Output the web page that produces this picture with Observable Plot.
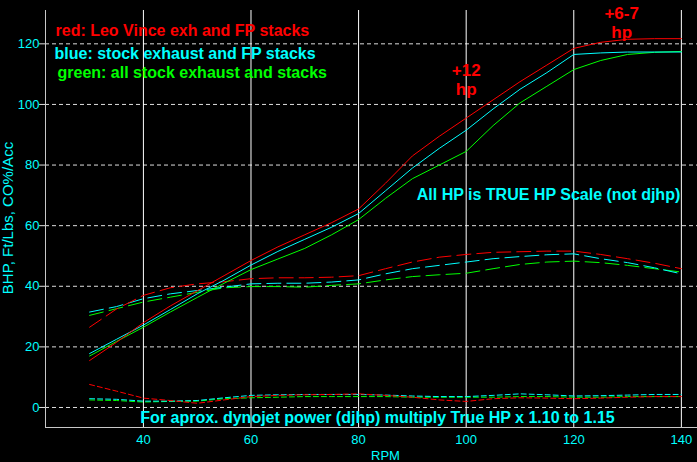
<!DOCTYPE html>
<html><head><meta charset="utf-8">
<script src="https://cdn.jsdelivr.net/npm/d3@7"></script>
<script src="https://cdn.jsdelivr.net/npm/@observablehq/plot@0.6"></script>
<style>
html,body{margin:0;padding:0;background:#000;}
#chart svg{display:block;}
</style></head><body><div id="chart"></div>
<script>
const rpm = [30,35,40,45,50,55,60,65,70,75,80,85,90,95,100,105,110,115,120,125,130,135,140];

const hpRed   = [15.5,21.5,28,33.5,38.5,43.5,48.5,53,57,61,65.5,74,83,89.5,95.5,101.5,107.5,113,118.5,120.5,121.5,121.7,121.7];
const hpBlue  = [17.8,22.5,27.2,32.3,37.5,42,47,51.5,55.5,59.5,64,71.5,79,85.5,91.5,98.5,105,110.5,116.5,117,117.3,117.3,117.3];
const hpGreen = [17,21.8,26.5,31.5,36.3,41,45.5,49,52.5,57,62,69,75.5,80,84.5,93,100.5,106,111.5,114.5,116.5,117.2,117.5];

const tqRed   = [26.5,32.5,37,39.5,40.8,41.5,42.5,42.8,42.8,43,43.5,45.8,48,49.6,50.5,51.2,51.4,51.6,51.6,50.5,49.1,47.6,45.8];
const tqBlue  = [31.5,33.3,35.9,37.5,38.6,39.7,40.8,41,41,41.4,42.1,44.1,45.8,46.9,48,49.1,49.8,50.4,50.7,49.1,47.8,46.1,44.1];
const tqGreen = [30.4,32.6,34.8,36.4,38,39.5,39.9,39.9,39.7,40.3,40.8,42.1,43.2,43.8,44.3,45.8,47.2,48,48.3,47.8,46.9,45.8,44.7];

const coRed   = [7.6,5.4,3.1,2.3,1.4,2.5,3.6,4,4.2,4.3,4.5,4,3.4,2.5,2,2.9,3.2,3.1,2.9,3.1,3.4,3.6,3.6];
const coBlue  = [2.9,2.7,2.1,2.1,2.3,3.2,4,4.2,4.3,4.3,4.3,4.1,3.8,3.6,3.6,4,4.5,4.2,3.8,3.9,4.1,4.3,4.3];
const coGreen = [2.5,2.3,1.8,2,2.1,2.9,3.2,3.4,3.6,3.6,3.6,3.6,3.4,3.4,3.4,3.4,3.6,3.6,3.4,3.4,3.6,3.6,3.6];

const xTicks = [40,60,80,100,120,140];
const yTicks = [0,20,40,60,80,100,120];

const legendRed = "red: Leo Vince exh and FP stacks";
const legendBlue = "blue: stock exhaust and FP stacks";
const legendGreen = "green: all stock exhaust and stacks";
const noteTrue = "All HP is TRUE HP Scale (not djhp)";
const noteDyno = "For aprox. dynojet power (djhp) multiply True HP x 1.10 to 1.15";
const yLabel = "BHP, Ft/Lbs, CO%/Acc";
const xLabel = "RPM";
const gainLabels = [{rpm:100, v:111.2, text:"+12"},{rpm:100, v:105, text:"hp"},{rpm:128.9, v:130, text:"+6-7"},{rpm:128.9, v:123.8, text:"hp"}];

const RED = "#ff0000", CYAN = "#00ffff", GREEN = "#00ff00";
const xDomain = [21.8, 143];
const yDomain = [-6.6, 131];

const rows = vals => rpm.map((r, i) => ({rpm: r, v: vals[i]}));
const series = [
  {vals: coGreen, color: GREEN, dash: "5,3"},
  {vals: coBlue, color: CYAN, dash: "5,3"},
  {vals: coRed, color: RED, dash: "5,3"},
  {vals: tqGreen, color: GREEN, dash: "14,6"},
  {vals: tqBlue, color: CYAN, dash: "14,6"},
  {vals: tqRed, color: RED, dash: "14,6"},
  {vals: hpGreen, color: GREEN, dash: null},
  {vals: hpBlue, color: CYAN, dash: null},
  {vals: hpRed, color: RED, dash: null}
];

const font = "'Liberation Sans', Arial, sans-serif";
const big = {fontSize: 16, fontWeight: "bold", lineAnchor: "middle"};

const chart = Plot.plot({
  width: 697,
  height: 462,
  marginLeft: 45,
  marginRight: 0,
  marginTop: 10,
  marginBottom: 35,
  style: {background: "#000", fontFamily: font, overflow: "visible"},
  x: {domain: xDomain},
  y: {domain: yDomain},
  marks: [
    Plot.gridY(yTicks, {stroke: "#dddddd", strokeOpacity: 1, strokeDasharray: "4,3"}),
    Plot.gridX(xTicks, {stroke: "#ffffff", strokeOpacity: 1}),
    Plot.ruleX([xDomain[0]], {stroke: "#c8c8c8"}),
    Plot.ruleY([yDomain[0]], {stroke: "#c8c8c8"}),
    Plot.axisX(xTicks, {tickSize: 0, tickPadding: 7, fill: CYAN, fontSize: 13, label: null}),
    Plot.axisY(yTicks, {tickSize: 6, tickPadding: 0, stroke: "#dddddd", fill: CYAN, fontSize: 13, label: null}),
    ...series.map(s => Plot.line(rows(s.vals), {x: "rpm", y: "v", stroke: s.color, strokeWidth: 1, strokeDasharray: s.dash})),
    Plot.text([yLabel], {frameAnchor: "left", textAnchor: "middle", lineAnchor: "middle", rotate: -90, dx: -37, dy: -1, fill: CYAN, fontSize: 15}),
    Plot.text([xLabel], {frameAnchor: "bottom", lineAnchor: "middle", dx: 14, dy: 28, fill: CYAN, fontSize: 13}),
    Plot.text([legendRed], {frameAnchor: "top-left", textAnchor: "start", dx: 10, dy: 20, fill: RED, ...big}),
    Plot.text([legendBlue], {frameAnchor: "top-left", textAnchor: "start", dx: 9, dy: 43, fill: CYAN, ...big}),
    Plot.text([legendGreen], {frameAnchor: "top-left", textAnchor: "start", dx: 12, dy: 62, fill: GREEN, ...big}),
    Plot.text([noteTrue], {frameAnchor: "top-left", textAnchor: "middle", dx: 503, dy: 184, fill: CYAN, ...big}),
    Plot.text([noteDyno], {frameAnchor: "bottom", textAnchor: "middle", dx: 6, dy: -10, fill: CYAN, ...big}),
    Plot.text(gainLabels, {x: "rpm", y: "v", text: "text", fill: RED, fontSize: 17, fontWeight: "bold"})
  ]
});
document.getElementById("chart").append(chart);
</script></body></html>
